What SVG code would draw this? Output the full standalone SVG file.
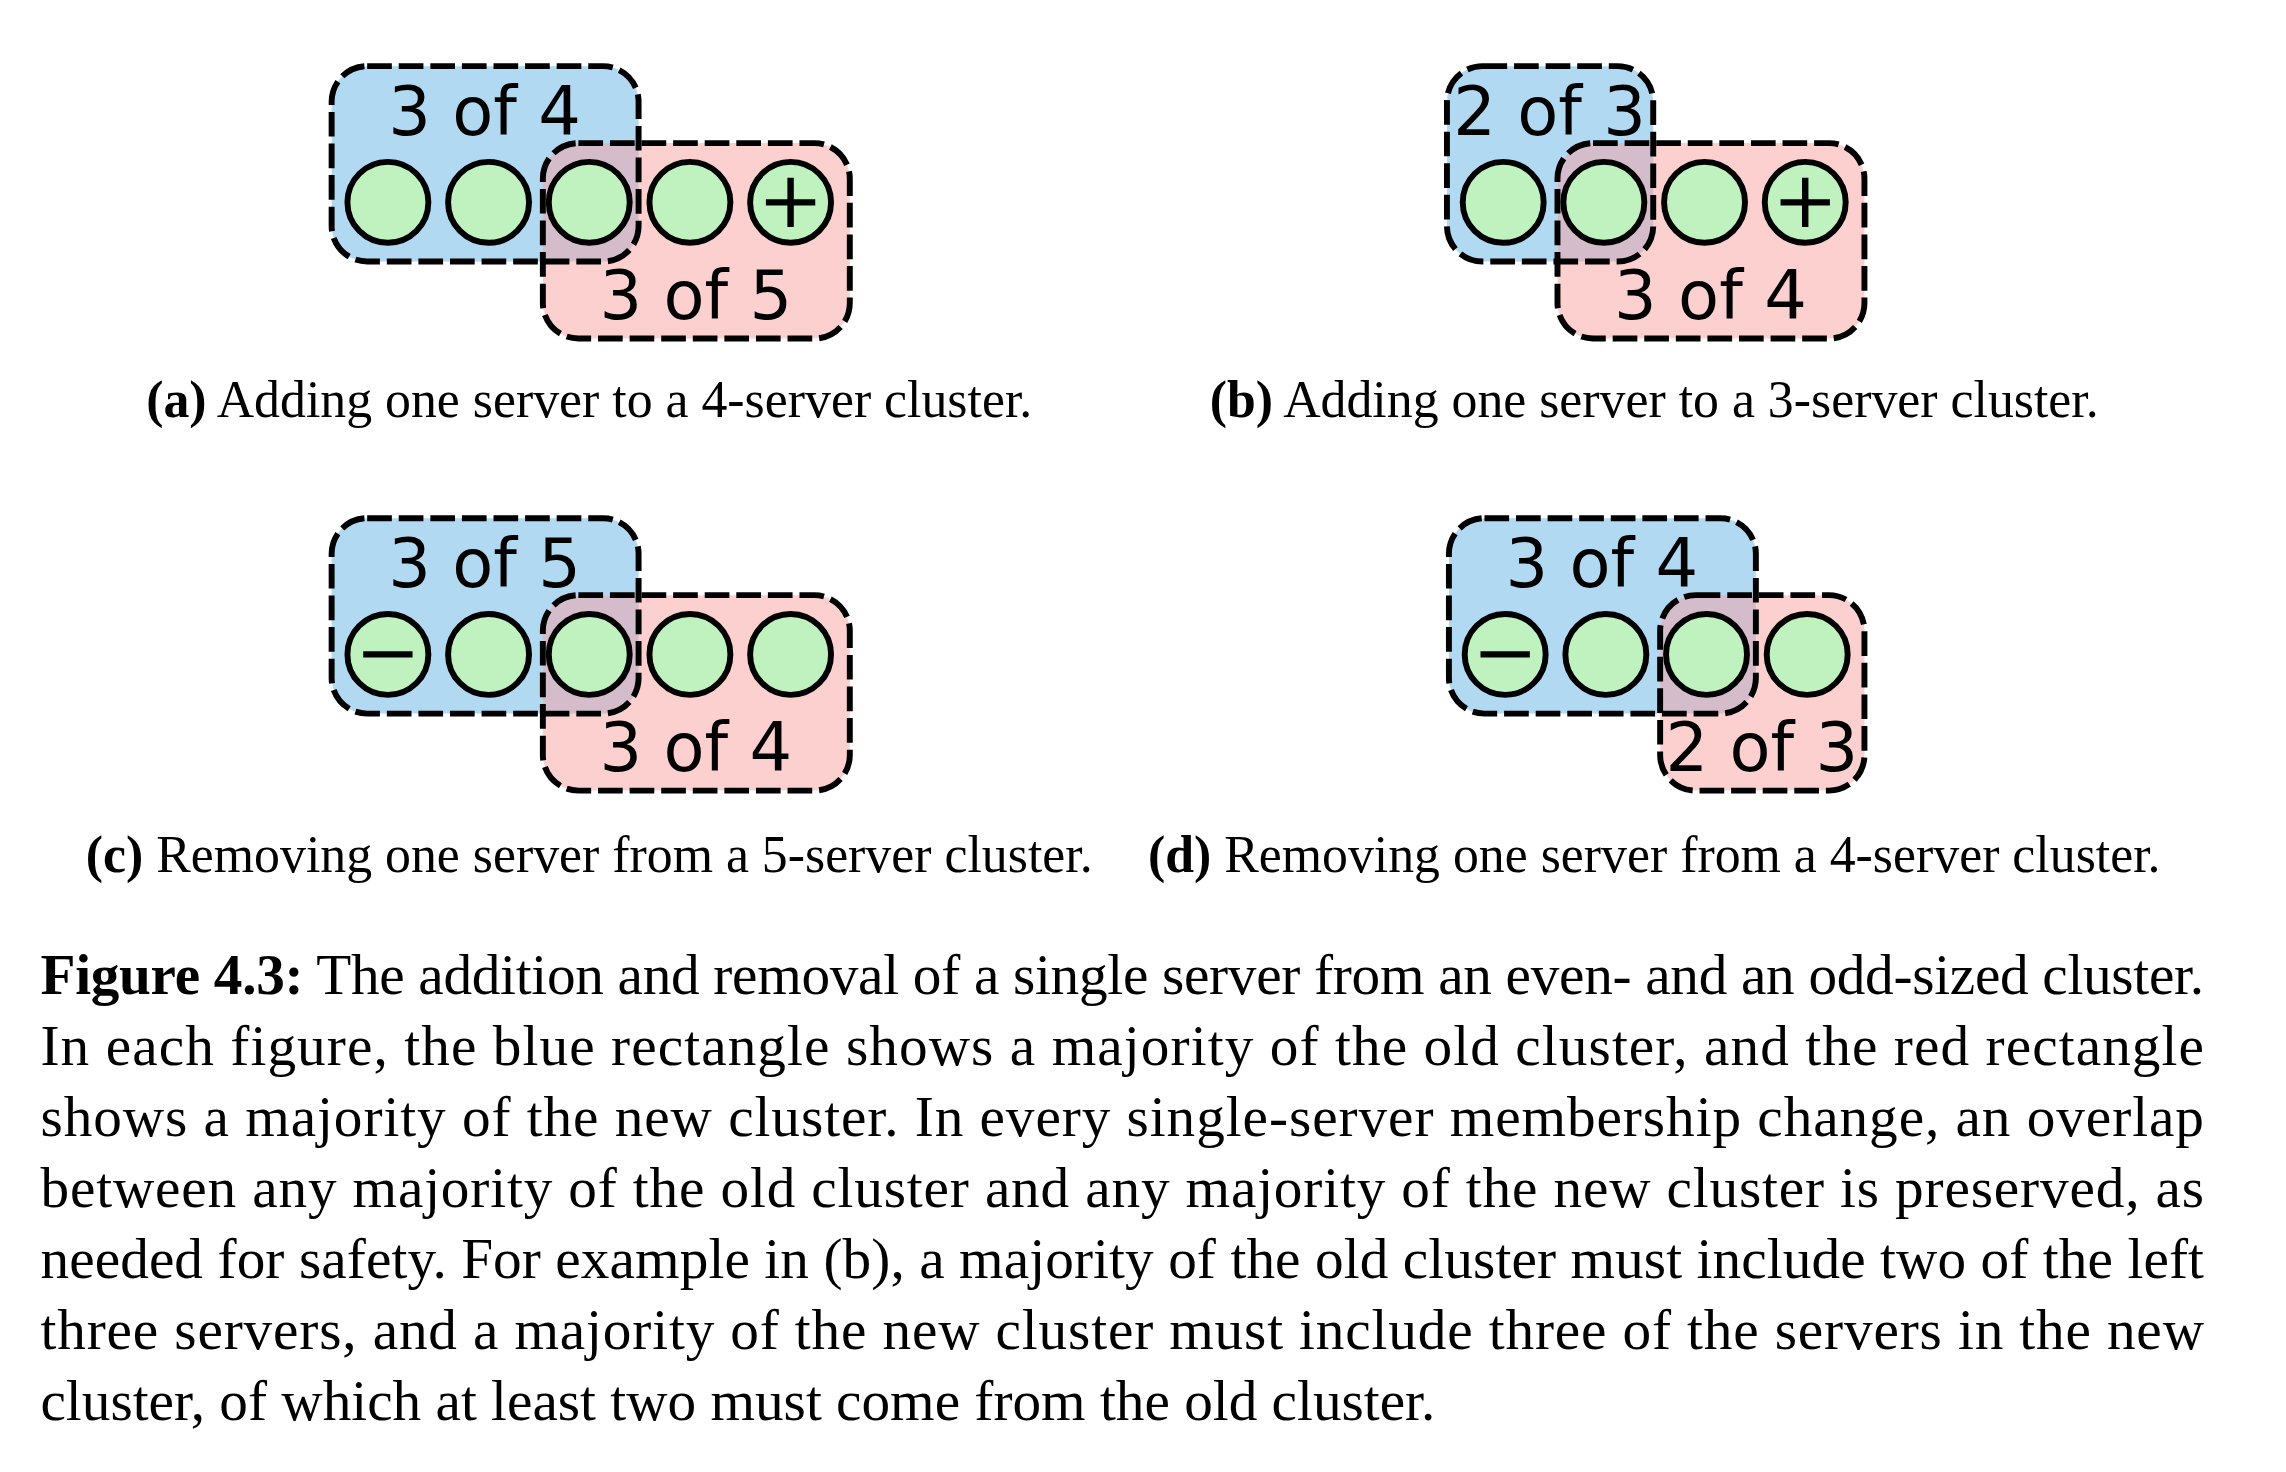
<svg xmlns="http://www.w3.org/2000/svg" width="2286" height="1472" viewBox="0 0 2286 1472">
<style>
.blue{fill:#b1d9f2}
.red{fill:#fdd0d0}
.ov{fill:#d5bccb}
.bd{fill:none;stroke:#000;stroke-width:6;stroke-dasharray:25 7}
.srv{fill:#c0f2c0;stroke:#000;stroke-width:6}
.mk{stroke:#000;stroke-width:6.5;fill:none}
.lbl{font-family:"DejaVu Sans",sans-serif;font-size:68px;text-anchor:middle;fill:#000}
.sub{font-family:"Liberation Serif",serif;font-size:52.5px;text-anchor:middle;fill:#000}
.cap{font-family:"Liberation Serif",serif;font-size:58px;fill:#000}
.b{font-weight:bold}
</style>
<defs>
<clipPath id="cpa"><rect x="336" y="67" width="311" height="198" rx="36"/></clipPath>
<clipPath id="cpb"><rect x="1466" y="67" width="209" height="198" rx="36"/></clipPath>
<clipPath id="cpc"><rect x="336" y="525" width="311" height="198" rx="36"/></clipPath>
<clipPath id="cpd"><rect x="1468" y="525" width="311" height="198" rx="36"/></clipPath>
</defs>
<rect width="2286" height="1472" fill="#fff"/>
<g transform="scale(0.987)">

<g id="panel-a">
<g id="a-old"><rect class="blue" x="336" y="67" width="311" height="198" rx="36"/></g>
<g id="a-new"><rect class="red" x="550" y="145" width="311" height="198" rx="36"/></g>
<rect class="ov" x="550" y="145" width="311" height="198" rx="36" clip-path="url(#cpa)"/>
<rect class="bd" x="336" y="67" width="311" height="198" rx="36"/>
<rect class="bd" x="550" y="145" width="311" height="198" rx="36"/>
<g id="a-s1"><circle class="srv" cx="393" cy="205" r="41"/></g>
<g id="a-s2"><circle class="srv" cx="495" cy="205" r="41"/></g>
<g id="a-s3"><circle class="srv" cx="597" cy="205" r="41"/></g>
<g id="a-s4"><circle class="srv" cx="699" cy="205" r="41"/></g>
<g id="a-s5"><circle class="srv" cx="801" cy="205" r="41"/><path class="mk" d="M776 205H826M801 180V230"/></g>
<text class="lbl" x="491" y="137">3 of 4</text>
<text class="lbl" x="705" y="323">3 of 5</text>
<text class="sub" x="597" y="422"><tspan class="b">(a)</tspan> Adding one server to a 4-server cluster.</text>
</g>

<g id="panel-b">
<g id="b-old"><rect class="blue" x="1466" y="67" width="209" height="198" rx="36"/></g>
<g id="b-new"><rect class="red" x="1578" y="145" width="311" height="198" rx="36"/></g>
<rect class="ov" x="1578" y="145" width="311" height="198" rx="36" clip-path="url(#cpb)"/>
<rect class="bd" x="1466" y="67" width="209" height="198" rx="36"/>
<rect class="bd" x="1578" y="145" width="311" height="198" rx="36"/>
<g id="b-s1"><circle class="srv" cx="1523" cy="205" r="41"/></g>
<g id="b-s2"><circle class="srv" cx="1625" cy="205" r="41"/></g>
<g id="b-s3"><circle class="srv" cx="1727" cy="205" r="41"/></g>
<g id="b-s4"><circle class="srv" cx="1829" cy="205" r="41"/><path class="mk" d="M1804 205H1854M1829 180V230"/></g>
<text class="lbl" x="1570" y="137">2 of 3</text>
<text class="lbl" x="1733" y="323">3 of 4</text>
<text class="sub" x="1676" y="422"><tspan class="b">(b)</tspan> Adding one server to a 3-server cluster.</text>
</g>

<g id="panel-c">
<g id="c-old"><rect class="blue" x="336" y="525" width="311" height="198" rx="36"/></g>
<g id="c-new"><rect class="red" x="550" y="603" width="311" height="198" rx="36"/></g>
<rect class="ov" x="550" y="603" width="311" height="198" rx="36" clip-path="url(#cpc)"/>
<rect class="bd" x="336" y="525" width="311" height="198" rx="36"/>
<rect class="bd" x="550" y="603" width="311" height="198" rx="36"/>
<g id="c-s1"><circle class="srv" cx="393" cy="663" r="41"/><path class="mk" d="M368 663H418"/></g>
<g id="c-s2"><circle class="srv" cx="495" cy="663" r="41"/></g>
<g id="c-s3"><circle class="srv" cx="597" cy="663" r="41"/></g>
<g id="c-s4"><circle class="srv" cx="699" cy="663" r="41"/></g>
<g id="c-s5"><circle class="srv" cx="801" cy="663" r="41"/></g>
<text class="lbl" x="491" y="595">3 of 5</text>
<text class="lbl" x="705" y="781">3 of 4</text>
<text class="sub" x="597" y="883"><tspan class="b">(c)</tspan> Removing one server from a 5-server cluster.</text>
</g>

<g id="panel-d">
<g id="d-old"><rect class="blue" x="1468" y="525" width="311" height="198" rx="36"/></g>
<g id="d-new"><rect class="red" x="1682" y="603" width="207" height="198" rx="36"/></g>
<rect class="ov" x="1682" y="603" width="207" height="198" rx="36" clip-path="url(#cpd)"/>
<rect class="bd" x="1468" y="525" width="311" height="198" rx="36"/>
<rect class="bd" x="1682" y="603" width="207" height="198" rx="36"/>
<g id="d-s1"><circle class="srv" cx="1525" cy="663" r="41"/><path class="mk" d="M1500 663H1550"/></g>
<g id="d-s2"><circle class="srv" cx="1627" cy="663" r="41"/></g>
<g id="d-s3"><circle class="srv" cx="1729" cy="663" r="41"/></g>
<g id="d-s4"><circle class="srv" cx="1831" cy="663" r="41"/></g>
<text class="lbl" x="1623" y="595">3 of 4</text>
<text class="lbl" x="1785" y="781">2 of 3</text>
<text class="sub" x="1676" y="883"><tspan class="b">(d)</tspan> Removing one server from a 4-server cluster.</text>
</g>

<g id="connectors"/>

<g id="caption">
<text class="cap" x="41" y="1007" textLength="2192" lengthAdjust="spacing"><tspan class="b">Figure 4.3:</tspan> The addition and removal of a single server from an even- and an odd-sized cluster.</text>
<text class="cap" x="41" y="1079" textLength="2192" lengthAdjust="spacing">In each figure, the blue rectangle shows a majority of the old cluster, and the red rectangle</text>
<text class="cap" x="41" y="1151" textLength="2192" lengthAdjust="spacing">shows a majority of the new cluster. In every single-server membership change, an overlap</text>
<text class="cap" x="41" y="1223" textLength="2192" lengthAdjust="spacing">between any majority of the old cluster and any majority of the new cluster is preserved, as</text>
<text class="cap" x="41" y="1295" textLength="2192" lengthAdjust="spacing">needed for safety. For example in (b), a majority of the old cluster must include two of the left</text>
<text class="cap" x="41" y="1367" textLength="2192" lengthAdjust="spacing">three servers, and a majority of the new cluster must include three of the servers in the new</text>
<text class="cap" x="41" y="1439">cluster, of which at least two must come from the old cluster.</text>
</g>
</g>
</svg>
